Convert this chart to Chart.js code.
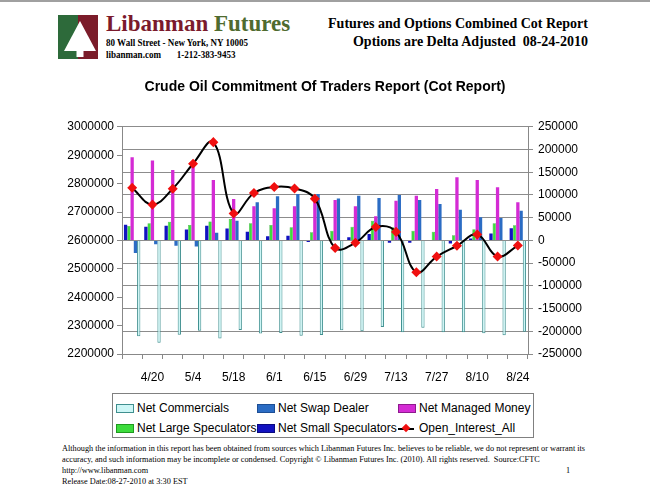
<!DOCTYPE html>
<html>
<head>
<meta charset="utf-8">
<script src="https://cdn.jsdelivr.net/npm/chart.js@4.4.0/dist/chart.umd.min.js"></script>
<style>
  body { margin: 0; background: #fff; }
  #page { position: relative; width: 650px; height: 502px; overflow: hidden; background: #fff; }
  .abs { position: absolute; white-space: nowrap; }
  #topline { left: 0; top: 0; width: 650px; height: 2px; background: #a0a0a0; }
  .logo1 { font-family: "Liberation Serif", serif; font-weight: bold; font-size: 23px; }
  .logo2 { font-family: "Liberation Serif", serif; font-weight: bold; font-size: 10.5px; transform: scaleX(0.86); transform-origin: left center; }
  .head { font-family: "Liberation Serif", serif; font-weight: bold; font-size: 14px; right: 62px; }
  #chartBox { left: 0; top: 60px; width: 650px; height: 330px; }
  #legend { left: 112px; top: 393px; width: 420px; height: 43px; border: 1px solid #808080; }
  .lg { position: absolute; font-family: "Liberation Sans", Arial, sans-serif; font-size: 12px; line-height: 14px; white-space: nowrap; }
  .sw { position: absolute; width: 16px; height: 7px; }
  .foot { font-family: "Liberation Serif", serif; font-size: 8.25px; left: 62px; }
</style>
</head>
<body>
<div id="page">
  <div id="topline" class="abs"></div>

  <svg class="abs" style="left:58px;top:15px" width="40" height="44" viewBox="0 0 40 44">
    <rect x="0" y="0" width="20" height="44" fill="#2d6a3a"/>
    <rect x="20" y="0" width="20" height="44" fill="#7b1c2a"/>
    <polygon points="22,6 6,36 38,36" fill="#fff"/>
    <rect x="18.5" y="36" width="7" height="6" fill="#fff"/>
  </svg>
  <div class="abs logo1" style="left:106px;top:11px"><span style="color:#7b1a2c">Libanman</span> <span style="color:#4f6b2f">Futures</span></div>
  <div class="abs logo2" style="left:106px;top:37px">80 Wall Street - New York, NY 10005</div>
  <div class="abs logo2" style="left:106px;top:49px">libanman.com&nbsp;&nbsp;&nbsp;&nbsp;&nbsp;&nbsp;&nbsp;1-212-383-9453</div>

  <div class="abs head" style="top:16px">Futures and Options Combined Cot Report</div>
  <div class="abs head" style="top:34px">Options are Delta Adjusted&nbsp; 08-24-2010</div>

  <div id="chartBox" class="abs"><canvas id="cot" width="650" height="330"></canvas></div>

  <div id="legend" class="abs"></div>

  <div class="abs foot" style="top:444px">Although the information in this report has been obtained from sources which Libanman Futures Inc. believes to be reliable, we do not represent or warrant its</div>
  <div class="abs foot" style="top:455px">accuracy, and such information may be incomplete or condensed. Copyright © Libanman Futures Inc. (2010). All rights reserved.&nbsp; Source:CFTC</div>
  <div class="abs foot" style="top:466px">http://www.libanman.com</div>
  <div class="abs foot" style="top:466px;left:566px">1</div>
  <div class="abs foot" style="top:477px">Release Date:08-27-2010 at 3:30 EST</div>
</div>

<script>
// weekly report dates
var weeks = ['4/13','4/20','4/27','5/4','5/11','5/18','5/25','6/1','6/8','6/15',
             '6/22','6/29','7/6','7/13','7/20','7/27','8/3','8/10','8/17','8/24'];

// net positions (right axis)
var smallSpec    = [34500, 30000, 32500, 24000, 32500, 26000, 19000, 9000, 10000, -3500,
                    1000, 7000, 14000, -5000, -5000, 1000, -7000, 4000, 15000, 27000];
var largeSpec    = [31500, 37500, 41000, 34000, 41500, 47000, 38000, 34000, 29000, 18000,
                    21500, 30000, 43000, 29000, 21500, 19000, 11500, 24500, 37500, 33500];
var managedMoney = [183000, 176000, 155000, 173000, 133000, 91000, 75000, 71000, 75000, 96000,
                    89000, 75000, 53000, 87000, 98000, 113000, 139000, 133000, 117000, 84000];
var swapDealer   = [-28000, -8500, -12000, -13500, 17000, 43000, 84000, 97000, 102000, 102000,
                    92000, 98000, 93500, 100000, 89000, 80000, 67500, 51000, 49500, 65000];
var commercials  = [-211000, -225500, -207500, -199000, -216000, -197000, -205000, -204000, -210000, -208000,
                    -198000, -200000, -190500, -202000, -192000, -202000, -202000, -204500, -209000, -201000];

// open interest (left axis)
var openInterest = [2785000, 2726000, 2782000, 2870000, 2946000, 2695000, 2767000, 2788000, 2783000, 2747000,
                    2573000, 2592000, 2647000, 2630000, 2488000, 2543000, 2581000, 2621000, 2543000, 2582000];

var green = '#3ddc3d', dkblue = '#1212c0', magenta = '#d42bd4', swapBlue = '#2b6cc4', cyan = '#cdf6f6';

var ctx = document.getElementById('cot');

var data = {
    labels: weeks,
    datasets: [
        {
            type: 'line', label: 'Open_Interest_All', data: openInterest, yAxisID: 'yL',
            borderColor: '#000', borderWidth: 2, tension: 0.4,
            pointStyle: 'rectRot', pointRadius: 3.6, pointBackgroundColor: '#f01010', pointBorderColor: '#f01010',
            order: 0
        },
        { label: 'Net Small Speculators', data: smallSpec, yAxisID: 'yR', backgroundColor: dkblue, order: 1 },
        { label: 'Net Large Speculators', data: largeSpec, yAxisID: 'yR', backgroundColor: green, borderColor: '#1f9a1f', borderWidth: 0.5, order: 1 },
        { label: 'Net Managed Money', data: managedMoney, yAxisID: 'yR', backgroundColor: magenta, order: 1 },
        { label: 'Net Swap Dealer', data: swapDealer, yAxisID: 'yR', backgroundColor: swapBlue, order: 1 },
        { label: 'Net Commercials', data: commercials, yAxisID: 'yR', backgroundColor: cyan, borderColor: '#3f8f8f', borderWidth: 1, order: 1 }
    ]
};

var tickFont = { family: 'Liberation Sans, Arial', size: 12 };

var chart = new Chart(ctx, {
    type: 'bar',
    data: data,
    options: {
        responsive: false,
        animation: false,
        devicePixelRatio: 1,
        datasets: { bar: { categoryPercentage: 0.81, barPercentage: 1.0, borderSkipped: 'start' } },
        layout: { padding: 0 },
        plugins: {
            legend: { display: false },
            tooltip: { enabled: false },
            title: {
                display: true,
                text: 'Crude Oil Commitment Of Traders Report (Cot Report)',
                color: '#000',
                font: { family: 'Liberation Sans, Arial', size: 14, weight: 'bold' },
                padding: { top: 19, bottom: 31 }
            }
        },
        scales: {
            x: {
                offset: true,
                grid: { offset: true, drawOnChartArea: false, drawTicks: true, tickLength: 5, color: '#888' },
                border: { display: true, color: '#888' },
                ticks: {
                    autoSkip: false, maxRotation: 0, padding: 11, color: '#000', font: tickFont,
                    callback: function (v, i) { return i % 2 === 1 ? weeks[i] : ''; }
                },
                afterFit: function (s) { s.height = 36; }
            },
            yL: {
                position: 'left', min: 2200000, max: 3000000,
                grid: { drawOnChartArea: false, tickLength: 5, color: '#888' },
                border: { display: true, color: '#888' },
                ticks: { stepSize: 100000, padding: 3, color: '#000', font: tickFont,
                         callback: function (v) { return String(v); } },
                afterFit: function (s) { s.width = 122; }
            },
            yR: {
                position: 'right', min: -250000, max: 250000,
                grid: { drawOnChartArea: true, tickLength: 5, color: '#8c8c8c' },
                border: { display: true, color: '#888' },
                ticks: { stepSize: 50000, padding: 5, color: '#000', font: tickFont,
                         callback: function (v) { return String(v); } },
                afterFit: function (s) { s.width = 122; }
            }
        }
    }
});

// legend laid out in two rows of three, like the report
var legendItems = [
    { name: 'Net Commercials', fill: cyan, edge: '#3f8f8f' },
    { name: 'Net Swap Dealer', fill: swapBlue, edge: '#1d4f95' },
    { name: 'Net Managed Money', fill: magenta, edge: '#8e1a8e' },
    { name: 'Net Large Speculators', fill: green, edge: '#1f9a1f' },
    { name: 'Net Small Speculators', fill: dkblue, edge: '#0a0a80' },
    { name: 'Open_Interest_All', line: true }
];
var colX = [3, 144, 285];
var rowY = [7, 27];
var box = document.getElementById('legend');
legendItems.forEach(function (it, i) {
    var cx = colX[i % 3], cy = rowY[Math.floor(i / 3)];
    var sw = document.createElement('div');
    sw.className = 'sw';
    sw.style.left = cx + 'px';
    sw.style.top = (cy + 3) + 'px';
    if (it.line) {
        sw.style.height = '0px';
        sw.style.top = (cy + 7) + 'px';
        sw.style.borderTop = '2px solid #000';
        sw.innerHTML = '<div style="position:absolute;left:5px;top:-5px;width:6px;height:6px;background:#f01010;transform:rotate(45deg)"></div>';
    } else {
        sw.style.background = it.fill;
        sw.style.border = '1px solid ' + it.edge;
    }
    box.appendChild(sw);
    var tx = document.createElement('div');
    tx.className = 'lg';
    tx.style.left = (cx + 21) + 'px';
    tx.style.top = cy + 'px';
    tx.textContent = it.name;
    box.appendChild(tx);
});
</script>
</body>
</html>
